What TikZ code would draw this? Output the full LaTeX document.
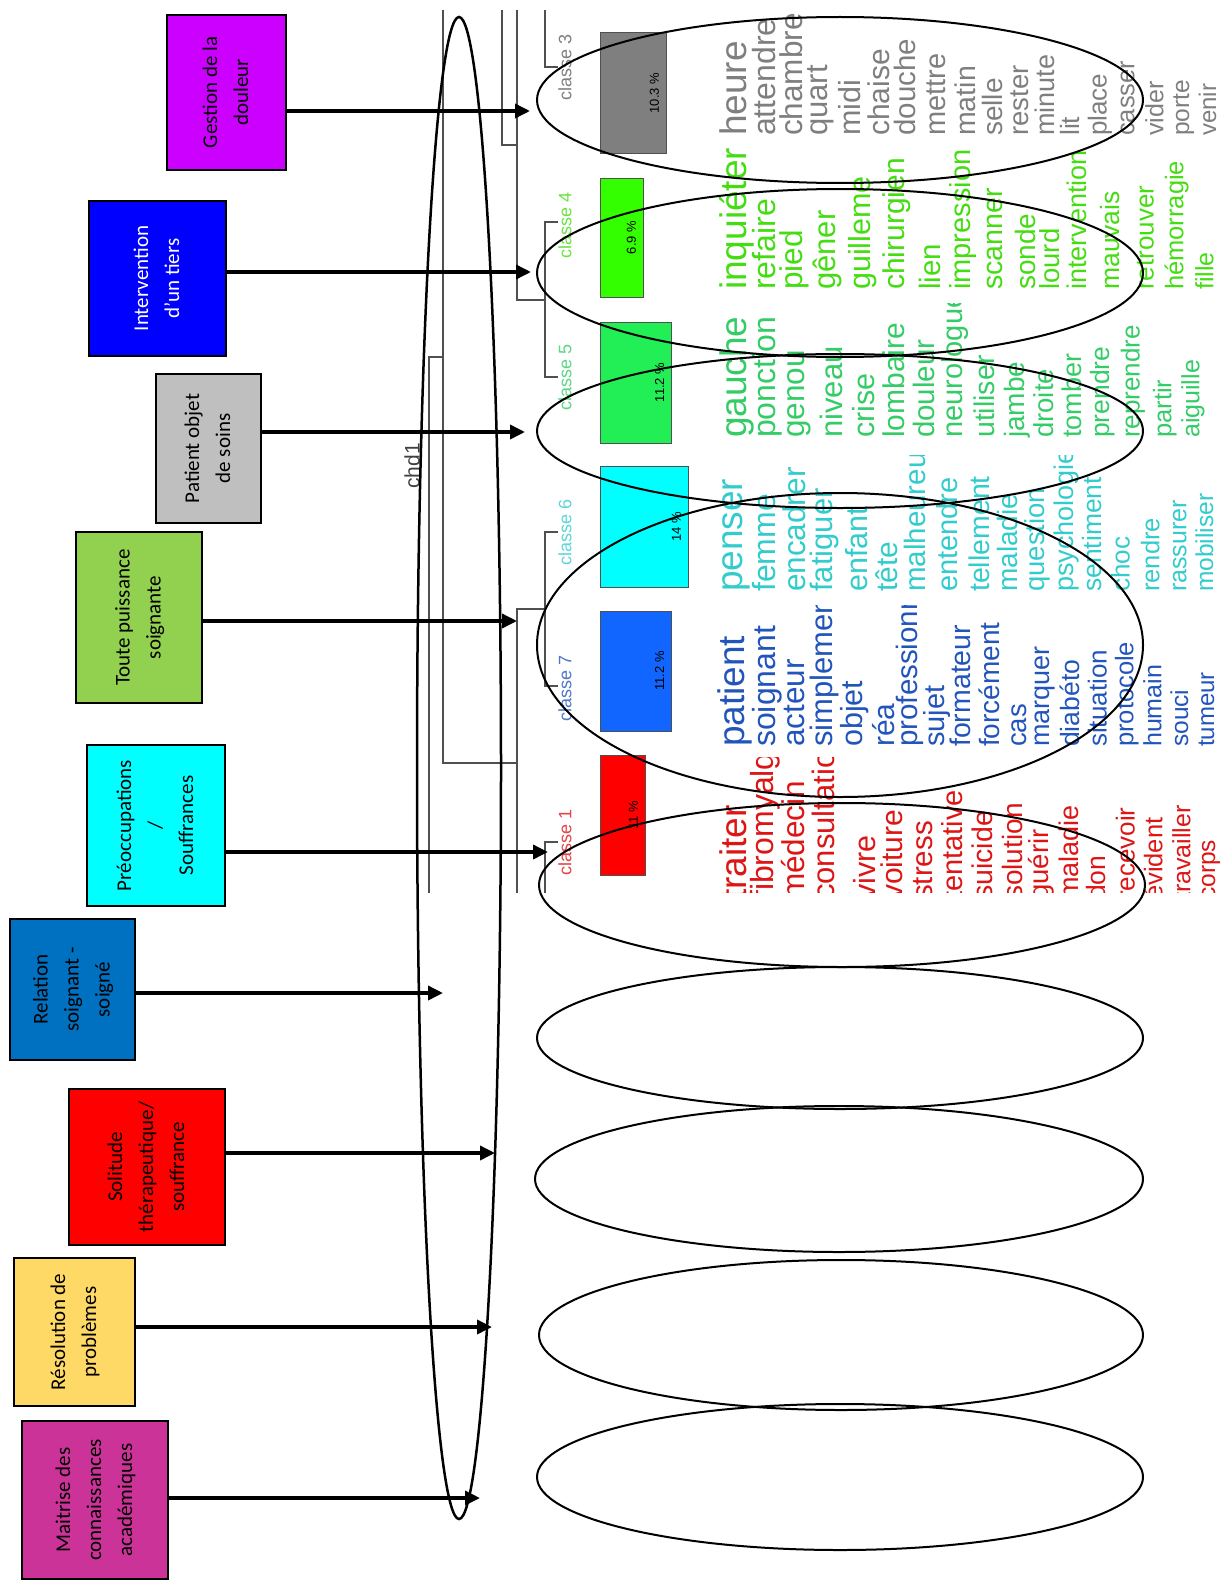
\documentclass[tikz,border=0pt]{standalone}
\usepackage{fontspec}
\setmainfont{Carlito}
\newfontfamily\arialfont{Liberation Sans}
\usepackage{graphicx}
\usepackage{tikz}
\usetikzlibrary{arrows.meta,positioning}

\definecolor{cgest}{HTML}{CC00FF}
\definecolor{cinterv}{HTML}{0000FF}
\definecolor{cpatient}{HTML}{BFBFBF}
\definecolor{ctoute}{HTML}{92D050}
\definecolor{cpreocc}{HTML}{00FFFF}
\definecolor{crelation}{HTML}{0070C0}
\definecolor{csolitude}{HTML}{FF0000}
\definecolor{cresol}{HTML}{FFD966}
\definecolor{cmaitrise}{HTML}{CC3399}
\definecolor{dgray}{HTML}{505050}
\definecolor{k3}{HTML}{7F7F7F}
\definecolor{k4}{HTML}{44DD11}
\definecolor{k5}{HTML}{33CC66}
\definecolor{k6}{HTML}{33CCCC}
\definecolor{k7}{HTML}{2255BB}
\definecolor{k1}{HTML}{DD1515}
\definecolor{b4}{HTML}{33FF00}
\definecolor{b5}{HTML}{22EE55}
\definecolor{b7}{HTML}{1166FF}

\begin{document}
\begin{tikzpicture}[x=1pt,y=-1pt,
  box/.style={draw=black, line width=1.5pt, inner sep=0pt, font=\fontsize{21}{31}\selectfont},
  arr/.style={-{Triangle[length=15pt,width=14pt]}, line width=3.5pt},
  dline/.style={draw=dgray, line width=1.2pt},
  bar/.style={draw=dgray, line width=1pt, inner sep=0pt},
  pct/.style={rotate=90, inner sep=0pt, font=\arialfont\fontsize{13}{13}\selectfont},
  lab/.style={rotate=90, inner sep=0pt, font=\arialfont\fontsize{18}{18}\selectfont},
  ring/.style={line width=2pt},
  word/.style={rotate=90, anchor=base west, inner sep=0pt}]

\fill[white] (0,0) rectangle (1224,1584);
\useasboundingbox (0,0) rectangle (1224,1584);

% dendrogramme
\draw[dline] (443,10) -- (443,763) -- (517,763);
\draw[dline] (443,357) -- (429,357) -- (429,893);
\draw[dline] (502,10) -- (502,145) -- (517,145);
\draw[dline] (517,10) -- (517,300) -- (545,300);
\draw[dline] (545,10) -- (545,67) -- (558,67);
\draw[dline] (558,222) -- (545,222) -- (545,377) -- (558,377);
\draw[dline] (517,893) -- (517,609) -- (545,609);
\draw[dline] (558,532) -- (545,532) -- (545,686) -- (558,686);
\draw[dline] (558,842) -- (545,842) -- (545,893);

\node[rotate=90, inner sep=0pt, text=black!75, font=\arialfont\fontsize{21}{21}\selectfont] (chd) at (412,466) {chd1};

\node[lab, text=k3] (c3) at (565,67) {classe 3};
\node[lab, text=k4!80] (c4) at (565,225) {classe 4};
\node[lab, text=k5!80] (c5) at (565,377) {classe 5};
\node[lab, text=k6!80] (c6) at (565,532) {classe 6};
\node[lab, text=k7!80] (c7) at (565,688) {classe 7};
\node[lab, text=k1!80] (c1) at (565,842) {classe 1};

% barres
\node[bar, fill=k3, minimum width=66pt, minimum height=120pt] (bar3) at (633,93) {};
\node[bar, fill=b4, minimum width=43pt, minimum height=119pt] (bar4) at (621.5,237.5) {};
\node[bar, fill=b5, minimum width=71pt, minimum height=121pt] (bar5) at (635.5,382.5) {};
\node[bar, fill=cpreocc, minimum width=88pt, minimum height=121pt] (bar6) at (644,526.5) {};
\node[bar, fill=b7, minimum width=71pt, minimum height=120pt] (bar7) at (635.5,671) {};
\node[bar, fill=csolitude, minimum width=45pt, minimum height=120pt] (bar1) at (622.5,815) {};
\node[pct] (p3) at ([xshift=-12pt]bar3.east) {10.3 \%};
\node[pct] (p4) at ([xshift=-12pt]bar4.east) {6.9 \%};
\node[pct] (p5) at ([xshift=-12pt]bar5.east) {11.2 \%};
\node[pct] (p6) at ([xshift=-12pt]bar6.east) {14 \%};
\node[pct] (p7) at ([xshift=-12pt]bar7.east) {11.2 \%};
\node[pct] (p1) at ([xshift=-12pt]bar1.east) {11 \%};

% mots
\begin{scope}
\clip (715,10) rectangle (1224,146);
\foreach \x/\w [count=\i] in {737/heure, 767/attendre, 795/chambre, 820/quart, 853/midi, 882/chaise, 908/douche, 938/mettre, 968/matin, 995/selle, 1022/rester, 1048/minute, 1073/lit, 1100/place, 1128/casser, 1157/vider, 1183/porte, 1210/venir}{
  \pgfmathsetmacro\fs{\i==1 ? 37 : 33-0.5*\i}
  \node[word, text=k3, font=\arialfont\fontsize{\fs}{\fs}\selectfont] (w3-\i) at ({\x+0.25*\fs},136) {\w};
}
\end{scope}
\begin{scope}
\clip (715,143) rectangle (1224,300);
\foreach \x/\w [count=\i] in {737/inquiéter, 767/refaire, 795/pied, 828/gêner, 863/guilleme, 897/chirurgien, 933/lien, 963/impression, 995/scanner, 1028/sonde, 1053/lourd, 1080/intervention, 1113/mauvais, 1147/retrouver, 1177/hémorragie, 1207/fille}{
  \pgfmathsetmacro\fs{\i==1 ? 37 : 33-0.5*\i}
  \node[word, text=k4, font=\arialfont\fontsize{\fs}{\fs}\selectfont] (w4-\i) at ({\x+0.25*\fs},290) {\w};
}
\end{scope}
\begin{scope}
\clip (715,303) rectangle (1224,448);
\foreach \x/\w [count=\i] in {737/gauche, 767/ponction, 797/genou, 835/niveau, 867/crise, 897/lombaire, 927/douleur, 955/neurologue, 987/utiliser, 1017/jambe, 1047/droite, 1075/tomber, 1103/prendre, 1133/reprendre, 1165/partir, 1193/aiguille}{
  \pgfmathsetmacro\fs{\i==1 ? 37 : 33-0.5*\i}
  \node[word, text=k5, font=\arialfont\fontsize{\fs}{\fs}\selectfont] (w5-\i) at ({\x+0.25*\fs},438) {\w};
}
\end{scope}
\begin{scope}
\clip (715,455) rectangle (1224,602);
\foreach \x/\w [count=\i] in {733/penser, 767/femme, 798/encadrer, 825/fatiguer, 860/enfant, 890/tête, 918/malheureux, 950/entendre, 982/tellement, 1010/maladie, 1038/question, 1067/psychologie, 1095/sentiment, 1123/choc, 1153/rendre, 1180/rassurer, 1207/mobiliser}{
  \pgfmathsetmacro\fs{\i==1 ? 37 : 33-0.5*\i}
  \node[word, text=k6, font=\arialfont\fontsize{\fs}{\fs}\selectfont] (w6-\i) at ({\x+0.25*\fs},592) {\w};
}
\end{scope}
\begin{scope}
\clip (715,605) rectangle (1224,757);
\foreach \x/\w [count=\i] in {735/patient, 767/soignant, 797/acteur, 825/simplement, 855/objet, 887/réa, 910/professionnel, 937/sujet, 963/formateur, 992/forcément, 1020/cas, 1043/marquer, 1073/diabéto, 1100/situation, 1127/protocole, 1155/humain, 1182/souci, 1208/tumeur}{
  \pgfmathsetmacro\fs{\i==1 ? 37 : 33-0.5*\i}
  \node[word, text=k7, font=\arialfont\fontsize{\fs}{\fs}\selectfont] (w7-\i) at ({\x+0.25*\fs},747) {\w};
}
\end{scope}
\begin{scope}
\clip (715,757) rectangle (1224,892);
\foreach \x/\w [count=\i] in {737/traiter, 765/fibromyalgie, 797/médecin, 827/consultation, 868/vivre, 895/voiture, 925/stress, 955/tentative, 985/suicide, 1015/solution, 1042/guérir, 1072/maladie, 1099/don, 1128/recevoir, 1156/évident, 1184/travailler, 1209/corps}{
  \pgfmathsetmacro\fs{\i==1 ? 37 : 33-0.5*\i}
  \node[word, text=k1, font=\arialfont\fontsize{\fs}{\fs}\selectfont] (w1-\i) at ({\x+0.25*\fs},900) {\w};
}
\end{scope}

% ellipses
\draw[line width=2.5pt] (459,768) ellipse [x radius=42, y radius=751];
\draw[ring] (840,100) ellipse [x radius=303, y radius=83];
\draw[ring] (840,273) ellipse [x radius=303, y radius=84];
\draw[ring] (840,431) ellipse [x radius=303, y radius=77];
\draw[ring] (840,645) ellipse [x radius=303, y radius=152];
\draw[ring] (842,885) ellipse [x radius=303, y radius=82];
\draw[ring] (840,1038) ellipse [x radius=303, y radius=71];
\draw[ring] (839,1179) ellipse [x radius=304, y radius=73];
\draw[ring] (841,1335) ellipse [x radius=302, y radius=75];
\draw[ring] (840,1477) ellipse [x radius=303, y radius=73];

% categories
\node[box, fill=cgest, minimum width=119pt, minimum height=155pt] (gestion) at (226.5,92.5)
  {\rotatebox{90}{\begin{tabular}{@{}c@{}}Gestion de la\\douleur\end{tabular}}};
\node[box, fill=cinterv, text=white, minimum width=137pt, minimum height=155pt] (interv) at (157.5,278.5)
  {\rotatebox{90}{\begin{tabular}{@{}c@{}}Intervention\\d’un tiers\end{tabular}}};
\node[box, fill=cpatient, minimum width=105pt, minimum height=149pt] (patient) at (208.5,448.5)
  {\rotatebox{90}{\begin{tabular}{@{}c@{}}Patient objet\\de soins\end{tabular}}};
\node[box, fill=ctoute, minimum width=126pt, minimum height=171pt] (toute) at (139,617.5)
  {\rotatebox{90}{\begin{tabular}{@{}c@{}}Toute puissance\\soignante\end{tabular}}};
\node[box, fill=cpreocc, minimum width=138pt, minimum height=161pt] (preocc) at (156,825.5)
  {\rotatebox{90}{\begin{tabular}{@{}c@{}}Préoccupations\\/\\Souffrances\end{tabular}}};
\node[box, fill=crelation, minimum width=125pt, minimum height=141pt] (relation) at (72.5,989.5)
  {\rotatebox{90}{\begin{tabular}{@{}c@{}}Relation\\soignant -\\soigné\end{tabular}}};
\node[box, fill=csolitude, minimum width=156pt, minimum height=156pt] (solitude) at (147,1167)
  {\rotatebox{90}{\begin{tabular}{@{}c@{}}Solitude\\thérapeutique/\\souffrance\end{tabular}}};
\node[box, fill=cresol, minimum width=121pt, minimum height=148pt] (resol) at (74.5,1332)
  {\rotatebox{90}{\begin{tabular}{@{}c@{}}Résolution de\\problèmes\end{tabular}}};
\node[box, fill=cmaitrise, minimum width=146pt, minimum height=158pt] (maitrise) at (95,1500)
  {\rotatebox{90}{\begin{tabular}{@{}c@{}}Maitrise des\\connaissances\\académiques\end{tabular}}};

% fleches
\coordinate (tgestion) at (530,111);
\coordinate (tinterv) at (531,272);
\coordinate (tpatient) at (525,432);
\coordinate (ttoute) at (517,621);
\coordinate (tpreocc) at (548,852);
\coordinate (trelation) at (443,993);
\coordinate (tsolitude) at (495,1153);
\coordinate (tresol) at (492,1327);
\coordinate (tmaitrise) at (480,1498);
\draw[arr] (gestion.east |- tgestion) -- (tgestion);
\draw[arr] (interv.east |- tinterv) -- (tinterv);
\draw[arr] (patient.east |- tpatient) -- (tpatient);
\draw[arr] (toute.east |- ttoute) -- (ttoute);
\draw[arr] (preocc.east |- tpreocc) -- (tpreocc);
\draw[arr] (relation.east |- trelation) -- (trelation);
\draw[arr] (solitude.east |- tsolitude) -- (tsolitude);
\draw[arr] (resol.east |- tresol) -- (tresol);
\draw[arr] (maitrise.east |- tmaitrise) -- (tmaitrise);
\end{tikzpicture}
\end{document}
